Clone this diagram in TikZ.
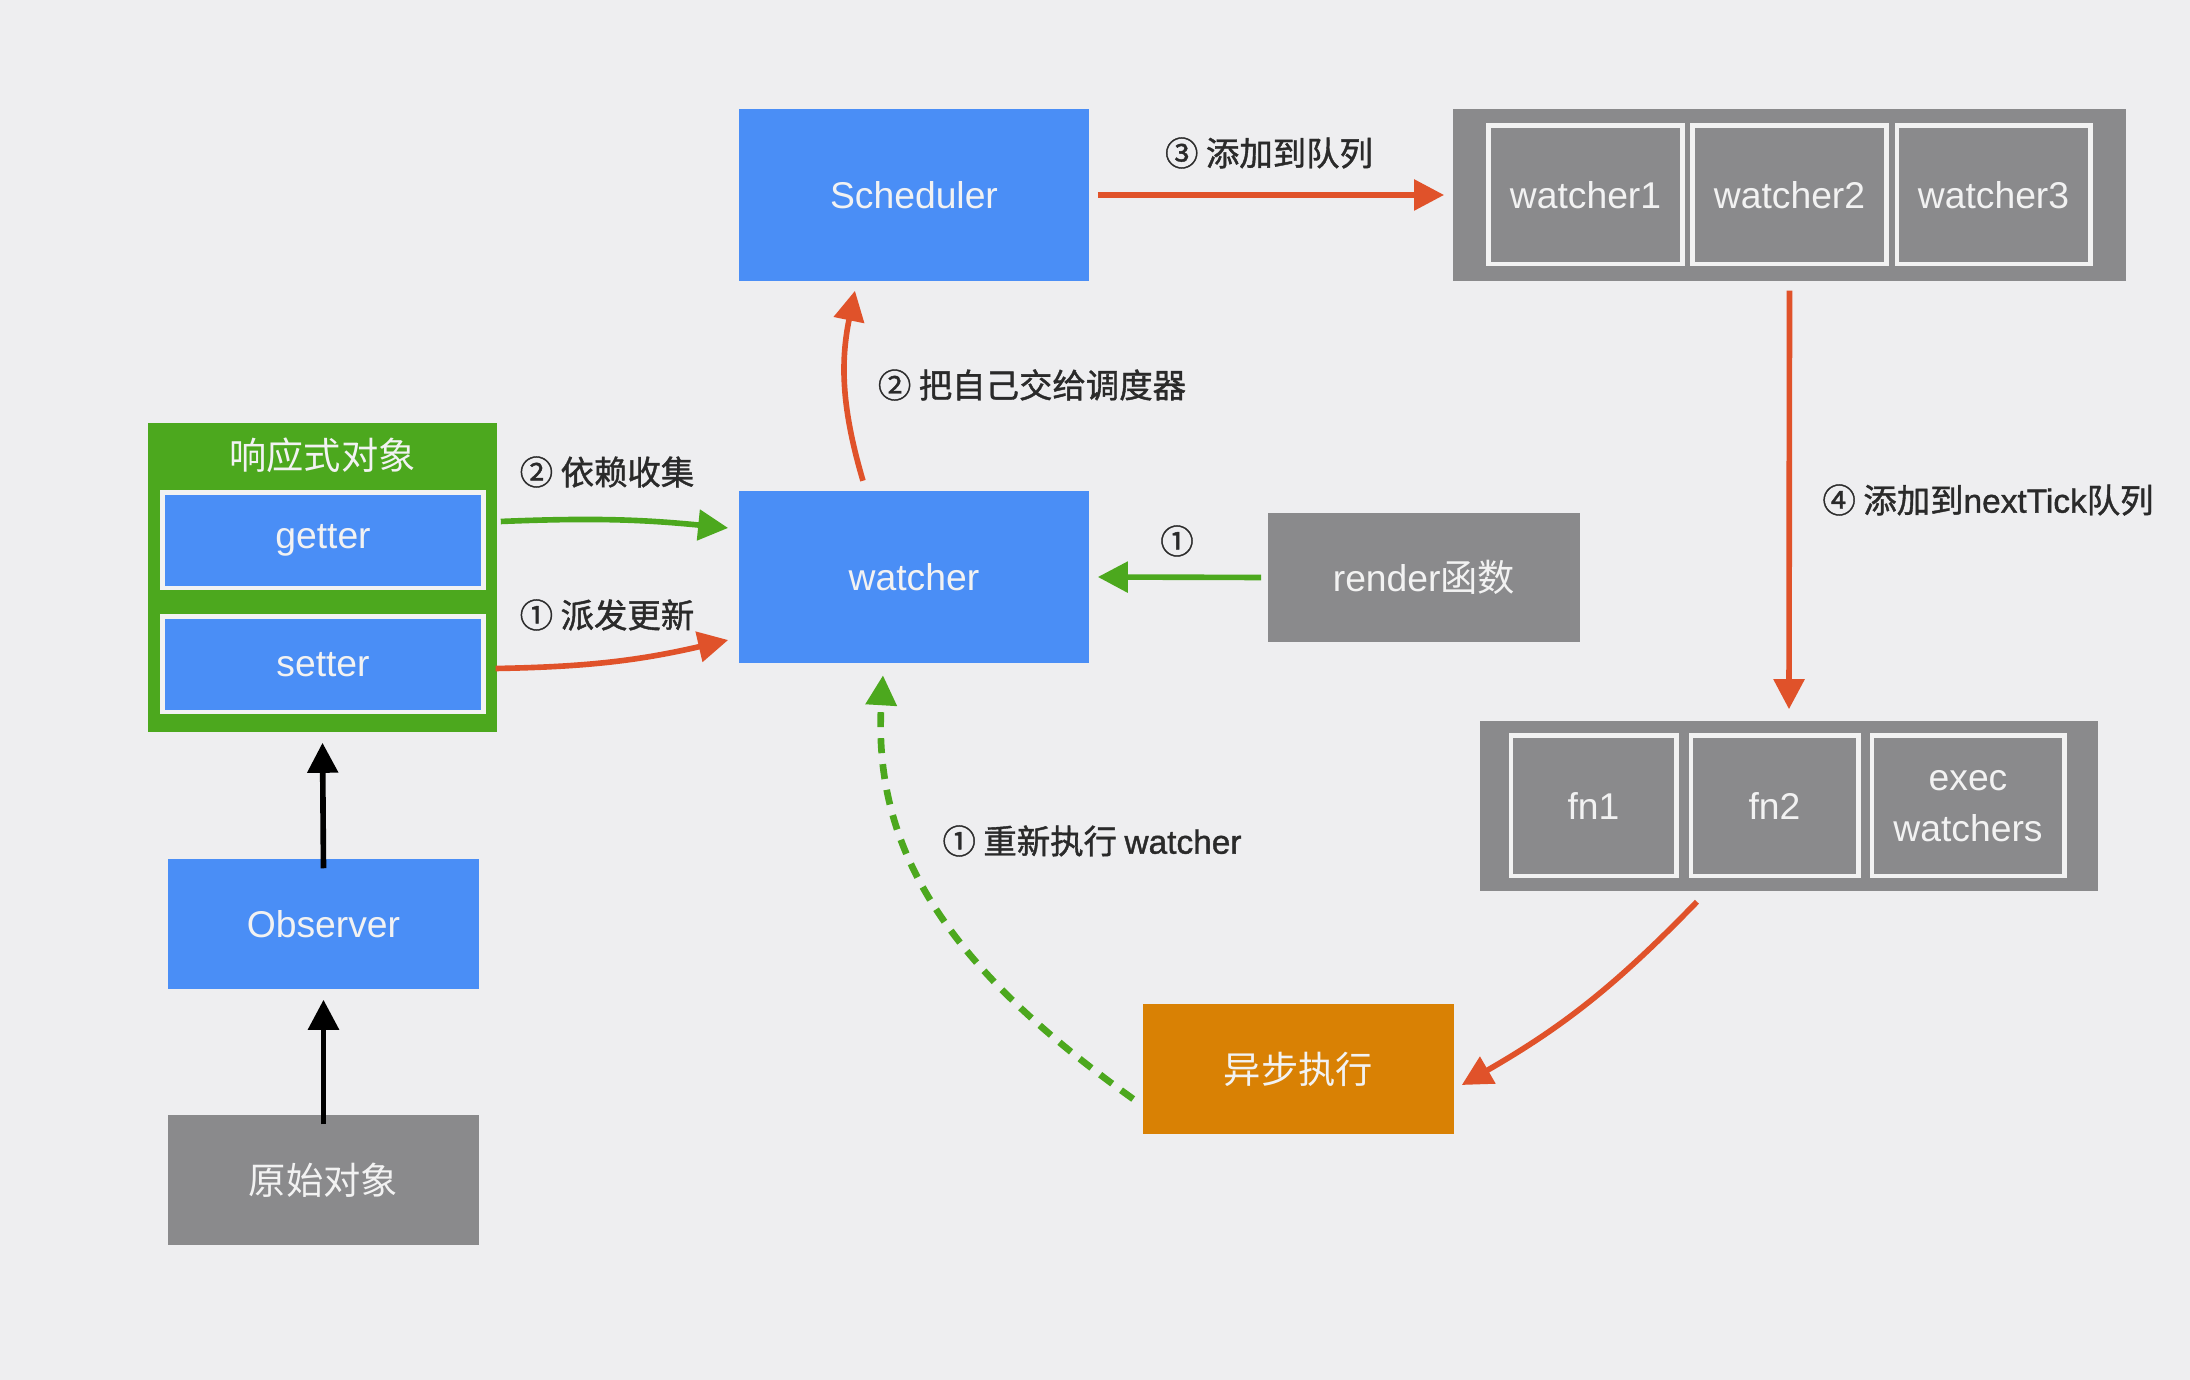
\documentclass[tikz,border=0pt]{standalone}
\usepackage{fontspec}
\setmainfont{Liberation Sans}
\newfontfamily\cjk{Noto Sans CJK SC}
\newfontfamily\lblcjk[FakeBold=1.2]{Noto Sans CJK SC}
\newfontfamily\lbllat[FakeBold=1.2]{Liberation Sans}
\usetikzlibrary{arrows.meta,calc}
\definecolor{bg}{HTML}{EEEEF0}
\definecolor{vblue}{HTML}{4A8EF6}
\definecolor{vgreen}{HTML}{4CA81E}
\definecolor{vgrey}{HTML}{8A8A8C}
\definecolor{vorange}{HTML}{D98104}
\definecolor{vred}{HTML}{E0522A}
\definecolor{ink}{HTML}{2A2A2A}
\definecolor{boxtext}{HTML}{F2F2F2}
\tikzset{
  box/.style={rectangle, inner sep=0pt, text=boxtext, font=\fontsize{10.6}{14}\selectfont, align=center},
  bluebox/.style={box, fill=vblue},
  greybox/.style={box, fill=vgrey},
  cell/.style={box, fill=vgrey, draw=boxtext, line width=1.4pt},
  bluecell/.style={box, fill=vblue, draw=boxtext, line width=1.4pt},
  lbl/.style={text=ink, font=\fontsize{9.5}{12}\selectfont\lblcjk, inner sep=0pt},
  tipA/.style={-{Triangle[length=0.3cm,width=0.3cm]}},
  redarr/.style={tipA, draw=vred, line width=1.6pt},
  greenarr/.style={tipA, draw=vgreen, line width=1.6pt},
  blackarr/.style={tipA, draw=black, line width=1.6pt},
}
\begin{document}
\begin{tikzpicture}[x=0.01cm,y=-0.01cm]
\fill[bg] (0,0) rectangle (2190,1380);
\useasboundingbox (0,0) rectangle (2190,1380);

% Scheduler and watcher
\node[bluebox, minimum width=3.50cm, minimum height=1.72cm] (sched) at (914,195) {Scheduler};
\node[bluebox, minimum width=3.50cm, minimum height=1.71cm] (watcher) at (914,577) {watcher};

% watcher queue
\node[greybox, minimum width=6.73cm, minimum height=1.72cm] (wq) at (1789.5,195) {};
\node[cell, minimum width=1.93cm, minimum height=1.38cm] (w1) at (1585.5,195) {watcher1};
\node[cell, minimum width=1.93cm, minimum height=1.38cm] (w2) at (1789.5,195) {watcher2};
\node[cell, minimum width=1.93cm, minimum height=1.38cm] (w3) at (1993.5,195) {watcher3};

% reactive object
\node[box, fill=vgreen, minimum width=3.49cm, minimum height=3.09cm] (react) at (322.5,577.5) {};
\node[box, font=\fontsize{10.6}{14}\selectfont\cjk] (reacttitle) at (322.5,455) {响应式对象};
\node[bluecell, minimum width=3.20cm, minimum height=0.95cm] (getter) at (323,540.5) {\raisebox{-0.08cm}{getter}};
\node[bluecell, minimum width=3.20cm, minimum height=0.95cm] (setter) at (323,664.5) {setter};

% observer chain
\node[bluebox, minimum width=3.11cm, minimum height=1.30cm] (obs) at (323.5,924) {Observer};
\node[greybox, minimum width=3.11cm, minimum height=1.30cm, font=\fontsize{10.6}{14}\selectfont\cjk] (raw) at (323.5,1180) {原始对象};

% render
\node[greybox, minimum width=3.12cm, minimum height=1.29cm] (render) at (1424,577.5) {render{\cjk 函数}};

% fn queue
\node[greybox, minimum width=6.18cm, minimum height=1.70cm] (fq) at (1789,806) {};
\node[cell, minimum width=1.65cm, minimum height=1.40cm] (fn1) at (1593.5,806) {fn1};
\node[cell, minimum width=1.67cm, minimum height=1.40cm] (fn2) at (1774.5,806) {fn2};
\node[cell, minimum width=1.92cm, minimum height=1.40cm] (exec) at (1968,806) {exec\\[0.5pt]watchers};

% async
\node[box, fill=vorange, minimum width=3.11cm, minimum height=1.30cm, font=\fontsize{10.6}{14}\selectfont\cjk] (async) at (1298.5,1069) {异步执行};

% arrows
\draw[blackarr] ([yshift=-0.1cm]raw.north) -- ([yshift=-0.1cm]obs.south);
\draw[blackarr] ([yshift=-0.1cm]obs.north) -- ([yshift=-0.1cm]react.south);

\draw[greenarr] ([xshift=0.03cm,yshift=0.19cm]getter.east -| react.east) to[bend left=4] ([xshift=-0.1cm,yshift=0.49cm]watcher.west);
\draw[redarr] ([xshift=0.1cm,yshift=-0.04cm]setter.east) to[bend right=6] ([xshift=-0.1cm,yshift=-0.63cm]watcher.west);

\draw[redarr] ([xshift=-0.51cm,yshift=0.1cm]watcher.north) to[bend left=14] ([xshift=-0.59cm,yshift=-0.09cm]sched.south);
\draw[redarr] ([xshift=0.08cm]sched.east) -- ([xshift=-0.08cm]wq.west);
\draw[redarr] ([yshift=-0.09cm]wq.south) -- ([yshift=0.11cm]fq.north);
\draw[greenarr] ([xshift=-0.06cm]render.west) -- ([xshift=0.08cm]watcher.west -| watcher.east);
\draw[redarr] ([xshift=-0.92cm,yshift=-0.1cm]fq.south) to[bend left=8] ([xshift=0.07cm,yshift=-0.16cm]async.east);
\draw[greenarr, line width=1.9pt, dash pattern=on 0.15cm off 0.11cm] ([xshift=-0.09cm,yshift=-0.3cm]async.west) .. controls (960,975) and (872,860) .. ([xshift=-0.31cm,yshift=-0.12cm]watcher.south);

% labels
\node[lbl] (l3) at (1269,153) {③ 添加到队列};
\node[lbl] (l2b) at (1032,385) {② 把自己交给调度器};
\node[lbl] (l2a) at (607,472) {② 依赖收集};
\node[lbl] (l1a) at (607,615) {① 派发更新};
\node[lbl] (l1r) at (1177,541) {①};
\node[lbl] (l4) at (1988,500) {④ 添加到{\lbllat nextTick}队列};
\node[lbl] (l1w) at (1092,841) {① 重新执行 {\lbllat watcher}};
\end{tikzpicture}
\end{document}
